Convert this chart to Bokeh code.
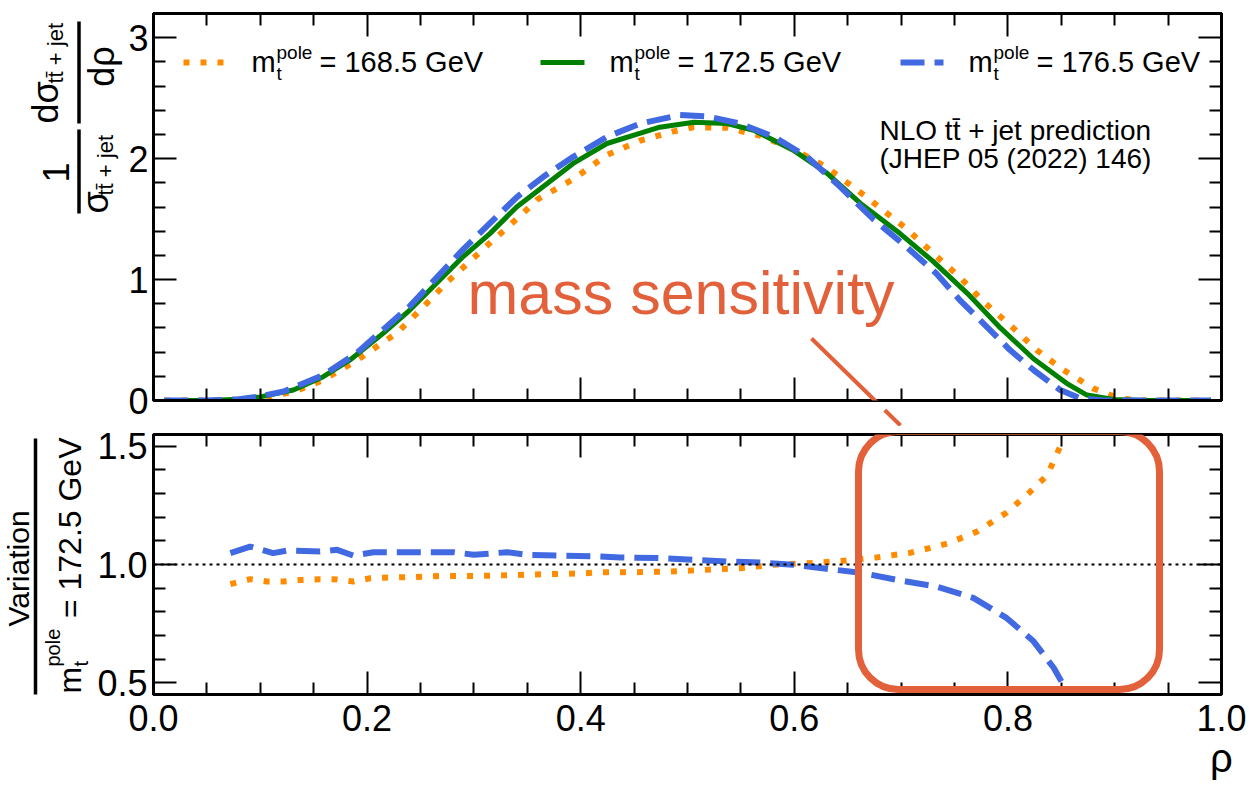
import numpy as np
from bokeh.plotting import figure
from bokeh.layouts import column, row
from bokeh.models import (Range1d, LinearAxis, FixedTicker, PrintfTickFormatter, Label,
                          Span, Arrow, NormalHead, BoxAnnotation, CustomJSTickFormatter)
from bokeh.embed import file_html
from bokeh.resources import INLINE

# ---------------- data ----------------
masses = ["168.5", "172.5", "176.5"]

rho_168 = [0.01, 0.05, 0.08, 0.10, 0.131, 0.159, 0.19, 0.228, 0.25, 0.275, 0.3215, 0.346, 0.359,
           0.393, 0.4245, 0.456, 0.487, 0.506, 0.537, 0.568, 0.599, 0.63, 0.668, 0.705, 0.730,
           0.755, 0.777, 0.802, 0.827, 0.852, 0.880, 0.896, 0.91, 0.93, 0.96, 0.99]
xs_168 = [0.0, 0.0, 0.006, 0.022, 0.07, 0.17, 0.33, 0.56, 0.75, 0.98, 1.354, 1.547, 1.66,
          1.83, 2.03, 2.15, 2.225, 2.26, 2.255, 2.19, 2.08, 1.93, 1.68, 1.42, 1.217,
          1.02, 0.817, 0.624, 0.417, 0.252, 0.10, 0.045, 0.012, 0.0, 0.0, 0.0]

rho_172 = [0.01, 0.05, 0.08, 0.10, 0.131, 0.159, 0.184, 0.215, 0.24, 0.265, 0.29, 0.315, 0.34,
           0.365, 0.393, 0.4245, 0.456, 0.474, 0.506, 0.537, 0.562, 0.599, 0.6305, 0.662, 0.699,
           0.730, 0.762, 0.793, 0.824, 0.855, 0.874, 0.899, 0.93, 0.96, 0.99]
xs_172 = [0.0, 0.0, 0.01, 0.03, 0.087, 0.197, 0.335, 0.555, 0.748, 0.969, 1.19, 1.38, 1.60,
          1.77, 1.96, 2.125, 2.21, 2.26, 2.30, 2.29, 2.235, 2.07, 1.88, 1.63, 1.38,
          1.15, 0.886, 0.60, 0.345, 0.142, 0.045, 0.008, 0.0, 0.0, 0.0]

rho_176 = [0.01, 0.05, 0.08, 0.10, 0.122, 0.159, 0.19, 0.24, 0.29, 0.34, 0.365, 0.393, 0.4245,
           0.456, 0.493, 0.518, 0.549, 0.581, 0.612, 0.643, 0.674, 0.705, 0.733, 0.755, 0.777,
           0.802, 0.824, 0.849, 0.868, 0.89, 0.93, 0.96, 0.99]
xs_176 = [0.0, 0.0, 0.01, 0.035, 0.075, 0.21, 0.39, 0.78, 1.25, 1.68, 1.85, 2.015, 2.18,
          2.29, 2.36, 2.35, 2.29, 2.18, 2.015, 1.767, 1.50, 1.27, 1.05, 0.83, 0.638,
          0.417, 0.252, 0.087, 0.018, 0.0, 0.0, 0.0, 0.0]

rho_r168 = [0.072, 0.0905, 0.106, 0.121, 0.137, 0.156, 0.172, 0.187, 0.203, 0.222, 0.245, 0.268,
            0.3, 0.334, 0.368, 0.4, 0.418, 0.449, 0.481, 0.515, 0.549, 0.58, 0.612, 0.646, 0.677,
            0.709, 0.743, 0.771, 0.799, 0.821, 0.837, 0.852]
ratio_168 = [0.917, 0.938, 0.928, 0.928, 0.934, 0.938, 0.937, 0.928, 0.942, 0.945, 0.947, 0.951,
             0.951, 0.955, 0.959, 0.962, 0.967, 0.967, 0.970, 0.977, 0.984, 0.999, 1.005, 1.016,
             1.030, 1.050, 1.088, 1.139, 1.220, 1.308, 1.379, 1.530]

rho_r176 = [0.072, 0.0905, 0.112, 0.125, 0.156, 0.172, 0.187, 0.206, 0.25, 0.281, 0.30, 0.331,
            0.35, 0.381, 0.412, 0.437, 0.474, 0.506, 0.537, 0.568, 0.599, 0.63, 0.662, 0.702,
            0.733, 0.768, 0.799, 0.824, 0.843, 0.857]
ratio_176 = [1.048, 1.076, 1.048, 1.059, 1.055, 1.062, 1.038, 1.052, 1.052, 1.052, 1.041, 1.052,
             1.041, 1.038, 1.035, 1.030, 1.027, 1.020, 1.013, 1.008, 0.999, 0.982, 0.965, 0.930,
             0.907, 0.858, 0.773, 0.675, 0.562, 0.450]

x_ticks = [0.0, 0.2, 0.4, 0.6, 0.8, 1.0]
x_minor = [round(0.05 * i, 2) for i in range(21) if i % 4 != 0]
top_ticks = [0, 1, 2, 3]
top_minor = [round(0.2 * i, 1) for i in range(17) if i % 5 != 0]
bot_ticks = [0.5, 1.0, 1.5]
bot_minor = [round(0.1 * i, 1) for i in range(5, 16) if i % 5 != 0]

# ---------------- style ----------------
ORANGE, GREEN, BLUE = "#FF8C00", "#008000", "#4169E1"
ANNOT = "#E2603A"
FONT = "Liberation Sans"
R = np.pi / 2
MID = 0.35          # baseline -> text middle, in em

# page-pixel geometry
W = 1249
FL, FR = 153, 1221
T_TOP, T_BOT, SPLIT = 13, 400, 426
B_TOP, B_BOT, H = 434, 694, 796
L1, L2 = 124, 92      # widths of the title strips left of each panel


def tx(px):
    return (px - FL) / (FR - FL)


def ty1(py):
    return 3.2 * (T_BOT - py) / (T_BOT - T_TOP)


def ty2(py):
    return 0.45 + 1.1 * (B_BOT - py) / (B_BOT - B_TOP)


def ident(v):
    return v


def neg(v):
    return -v


def make_axis(major, minor, fmt=None, size="36px", standoff=6):
    ax = LinearAxis(ticker=FixedTicker(ticks=major, minor_ticks=minor),
                    major_tick_in=23, major_tick_out=0, minor_tick_in=12, minor_tick_out=0,
                    major_tick_line_width=2, minor_tick_line_width=2, axis_line_width=3,
                    major_tick_line_color="black", minor_tick_line_color="black",
                    axis_line_color="black")
    if fmt is not None:
        ax.formatter = fmt
        ax.major_label_text_font = FONT
        ax.major_label_text_font_size = size
        ax.major_label_text_color = "black"
        ax.major_label_standoff = standoff
    else:
        ax.formatter = CustomJSTickFormatter(code="return ''")
        ax.major_label_standoff = 0
    return ax


def lab(p, fx, fy, px, py, text, size, angle=0.0, align="left", color="black"):
    """Place text whose baseline passes through page pixel (px, py)."""
    d = MID * size
    if angle == 0:
        cx, cy = px, py - d
    else:
        cx, cy = px - d, py
    p.add_layout(Label(x=fx(cx), y=fy(cy), text=text, angle=angle, text_align=align,
                       text_baseline="middle", text_font=FONT, text_font_size=f"{size}px",
                       text_color=color))


def seg(p, x0, y0, x1, y1, color, width):
    p.add_layout(Arrow(start=None, end=None, x_start=x0, y_start=y0, x_end=x1, y_end=y1,
                       line_color=color, line_width=width))


def strip(width, top, frame_top, frame_bot, total):
    s = figure(frame_width=width, frame_height=frame_bot - frame_top,
               min_border_left=0, min_border_right=0, min_border_top=frame_top - top,
               min_border_bottom=total - (frame_bot - top),
               x_range=Range1d(0, width), y_range=Range1d(-frame_bot, -frame_top),
               output_backend="svg", toolbar_location=None,
               x_axis_location=None, y_axis_location=None)
    s.grid.visible = False
    s.outline_line_color = None
    return s


# ---------------- top panel ----------------
p1 = figure(frame_width=FR - FL, frame_height=T_BOT - T_TOP, x_range=Range1d(0, 1), y_range=Range1d(0, 3.2),
            min_border_left=FL - L1, min_border_right=W - FR, min_border_top=T_TOP,
            min_border_bottom=SPLIT - T_BOT, output_backend="svg", toolbar_location=None,
            x_axis_location=None, y_axis_location=None)
p1.grid.visible = False
p1.outline_line_color = "black"
p1.outline_line_width = 3
p1.add_layout(make_axis(top_ticks, top_minor, PrintfTickFormatter(format="%d"), standoff=5), "left")
p1.add_layout(make_axis(top_ticks, top_minor), "right")
p1.add_layout(make_axis(x_ticks, x_minor), "below")
p1.add_layout(make_axis(x_ticks, x_minor), "above")

p1.line(rho_168, xs_168, line_color=ORANGE, line_width=6, line_dash="6 11")
p1.line(rho_172, xs_172, line_color=GREEN, line_width=5)
p1.line(rho_176, xs_176, line_color=BLUE, line_width=6, line_dash="24 10")

# legend
leg = [(183, 225, 251, 319, ORANGE, 6, "6 11", masses[0]),
       (540, 584, 609, 677, GREEN, 5, None, masses[1]),
       (900, 943, 968, 1036, BLUE, 6, "24 10", masses[2])]
for s0, s1_, mx, ex, col, lw, dash, m in leg:
    kw = dict(line_color=col, line_width=lw)
    if dash:
        kw["line_dash"] = dash
    p1.line([tx(s0), tx(s1_)], [ty1(62), ty1(62)], **kw)
    lab(p1, tx, ty1, mx, 72, "m", 29)
    lab(p1, tx, ty1, mx + 25, 80, "t", 19)
    lab(p1, tx, ty1, mx + 25, 59, "pole", 19)
    lab(p1, tx, ty1, ex, 72, f"= {m} GeV", 29)

lab(p1, tx, ty1, 879, 140, "NLO tt\u0304 + jet prediction", 28)
lab(p1, tx, ty1, 879, 168, "(JHEP 05 (2022) 146)", 28)

lab(p1, tx, ty1, 467, 314, "mass sensitivity", 61, color=ANNOT)
p1.add_layout(Arrow(end=NormalHead(size=22, fill_color=ANNOT, line_color=ANNOT),
                    x_start=tx(811), y_start=ty1(338), x_end=tx(900), y_end=ty1(425),
                    line_color=ANNOT, line_width=4))

# y title strip of the top panel (coordinates are page pixels)
s1 = strip(L1, 0, T_TOP, T_BOT, SPLIT)
lab(s1, ident, neg, 58, 123, "d\u03c3", 36, angle=R)
lab(s1, ident, neg, 63, 83, "tt\u0304 + jet", 22, angle=R)
seg(s1, 78.5, -21, 78.5, -123, "black", 3.5)
lab(s1, ident, neg, 114, 66, "d\u03c1", 36, angle=R, align="center")
lab(s1, ident, neg, 68, 172, "1", 36, angle=R, align="center")
seg(s1, 78.5, -129, 78.5, -213, "black", 3.5)
lab(s1, ident, neg, 108, 213, "\u03c3", 36, angle=R)
lab(s1, ident, neg, 113, 195, "tt\u0304 + jet", 22, angle=R)

# ---------------- ratio panel ----------------
p2 = figure(frame_width=FR - FL, frame_height=B_BOT - B_TOP, x_range=p1.x_range, y_range=Range1d(0.45, 1.55),
            min_border_left=FL - L2, min_border_right=W - FR, min_border_top=B_TOP - SPLIT,
            min_border_bottom=H - B_BOT, output_backend="svg", toolbar_location=None,
            x_axis_location=None, y_axis_location=None)
p2.grid.visible = False
p2.outline_line_color = "black"
p2.outline_line_width = 3
p2.add_layout(make_axis(bot_ticks, bot_minor, PrintfTickFormatter(format="%.1f")), "left")
p2.add_layout(make_axis(bot_ticks, bot_minor), "right")
xb = make_axis(x_ticks, x_minor, PrintfTickFormatter(format="%.1f"), standoff=10)
xb.axis_label = "\u03c1"
xb.axis_label_align = "end"
xb.axis_label_text_font = FONT
xb.axis_label_text_font_size = "40px"
xb.axis_label_text_font_style = "normal"
xb.axis_label_text_color = "black"
xb.axis_label_standoff = 2
p2.add_layout(xb, "below")
p2.add_layout(make_axis(x_ticks, x_minor), "above")

p2.add_layout(Span(location=1.0, dimension="width", line_color="black", line_width=2, line_dash="3 4"))
p2.line(rho_r168, ratio_168, line_color=ORANGE, line_width=6, line_dash="6 11")
p2.line(rho_r176, ratio_176, line_color=BLUE, line_width=6, line_dash="24 10")

p2.add_layout(BoxAnnotation(left=tx(858), right=tx(1159), top=ty2(431), bottom=ty2(689),
                            fill_alpha=0, line_color=ANNOT, line_alpha=1, line_width=7,
                            border_radius=40))
seg(p2, tx(896), ty2(431), tx(1121), ty2(431), ANNOT, 7)

# y title strip of the ratio panel
s2 = strip(L2, SPLIT, B_TOP, B_BOT, H - SPLIT)
lab(s2, ident, neg, 28, 568, "Variation", 30, angle=R, align="center")
seg(s2, 35, -438, 35, -712, "black", 3.5)
lab(s2, ident, neg, 81, 693, "m", 32, angle=R)
lab(s2, ident, neg, 87, 666, "t", 20, angle=R)
lab(s2, ident, neg, 59, 666, "pole", 20, angle=R)
lab(s2, ident, neg, 81, 437, "= 172.5 GeV", 32, angle=R, align="right")

layout = column(row(s1, p1, spacing=0), row(s2, p2, spacing=0), spacing=0)
open("out.html", "w").write(file_html(layout, INLINE))
